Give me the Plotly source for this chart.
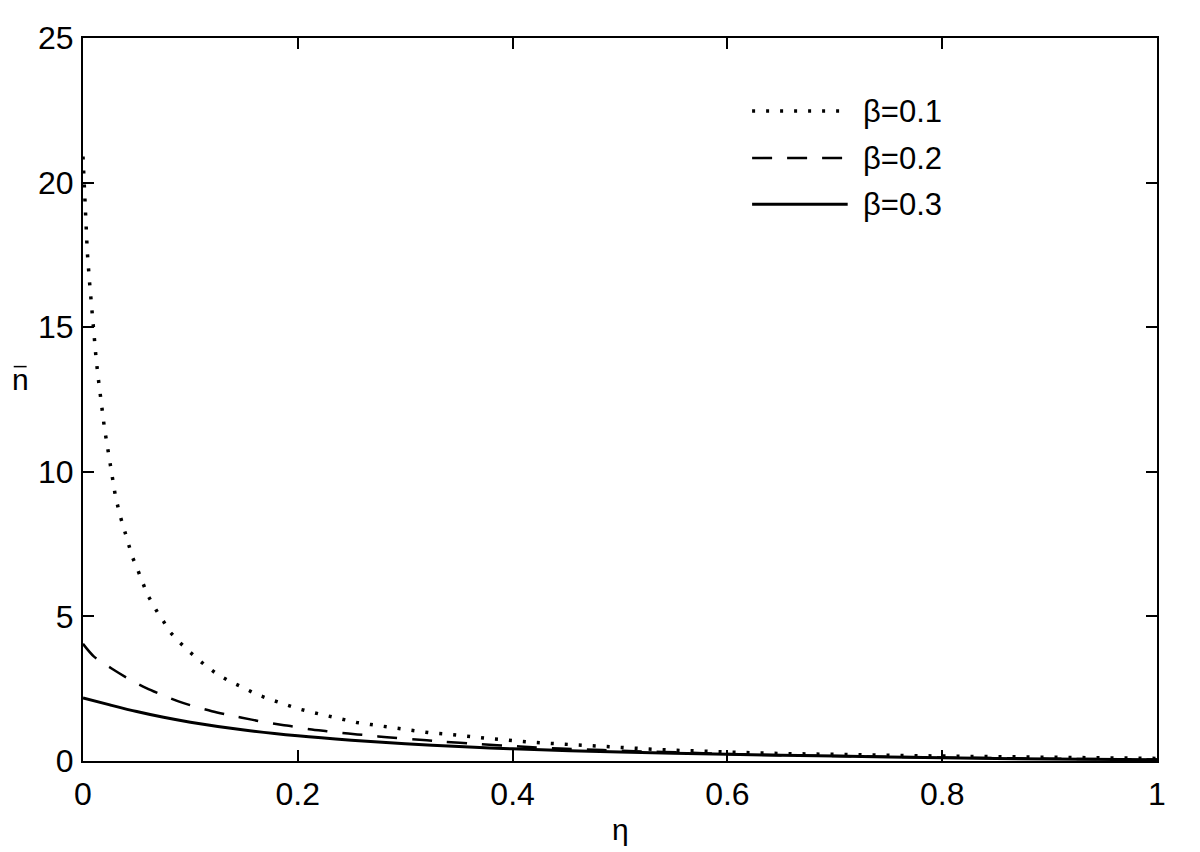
import plotly.graph_objects as go

# ---- data ----
eta_b01 = [0, 0.001, 0.002, 0.003, 0.004, 0.006, 0.008, 0.010, 0.012, 0.014, 0.016,
           0.018, 0.020, 0.023, 0.026, 0.030, 0.034, 0.038, 0.042, 0.046, 0.050,
           0.060, 0.070, 0.075, 0.080, 0.090, 0.100, 0.114, 0.125, 0.137, 0.150,
           0.162, 0.175, 0.188, 0.200, 0.215, 0.228, 0.241, 0.255, 0.268, 0.282,
           0.295, 0.310, 0.322, 0.336, 0.349, 0.363, 0.377, 0.390, 0.402, 0.416,
           0.430, 0.443, 0.457, 0.470, 0.484, 0.498, 0.512, 0.525, 0.539, 0.553,
           0.580, 0.608, 0.648, 0.690, 0.750, 0.800, 0.850, 0.900, 0.950, 1.000]
n_b01 = [20.9, 20.0, 19.0, 18.2, 17.6, 16.6, 15.6, 14.8, 14.0, 13.3, 12.6,
         12.1, 11.5, 10.8, 10.1, 9.2, 8.55, 8.05, 7.55, 7.05, 6.7,
         5.75, 5.1, 4.83, 4.5, 4.1, 3.75, 3.3, 3.0, 2.75, 2.52,
         2.3, 2.12, 1.96, 1.81, 1.67, 1.55, 1.43, 1.33, 1.26, 1.18,
         1.12, 1.05, 0.98, 0.94, 0.9, 0.84, 0.78, 0.73, 0.69, 0.65,
         0.62, 0.59, 0.56, 0.53, 0.5, 0.47, 0.44, 0.41, 0.39, 0.37,
         0.33, 0.3, 0.26, 0.23, 0.2, 0.17, 0.15, 0.13, 0.11, 0.09]

eta_b02 = [0, 0.010, 0.027, 0.044, 0.059, 0.076, 0.093, 0.120, 0.137, 0.157,
           0.1725, 0.193, 0.211, 0.227, 0.247, 0.264, 0.283, 0.320, 0.335, 0.363,
           0.407, 0.444, 0.484, 0.520, 0.562, 0.590, 0.650, 0.700, 0.800, 0.900, 1.000]
n_b02 = [4.05, 3.62, 3.19, 2.81, 2.52, 2.25, 2.01, 1.72, 1.58, 1.43,
         1.32, 1.21, 1.1, 1.03, 0.95, 0.89, 0.82, 0.72, 0.67, 0.6,
         0.5, 0.43, 0.38, 0.33, 0.29, 0.25, 0.2, 0.17, 0.12, 0.08, 0.05]

eta_b03 = [0, 0.025, 0.050, 0.075, 0.100, 0.150, 0.200, 0.250, 0.300, 0.350,
           0.400, 0.500, 0.600, 0.700, 0.800, 0.900, 1.000]
n_b03 = [2.18, 1.94, 1.71, 1.51, 1.34, 1.07, 0.87, 0.72, 0.6, 0.5,
         0.42, 0.31, 0.23, 0.17, 0.11, 0.07, 0.04]

labels = ["β=0.1", "β=0.2", "β=0.3"]
x_ticks = [0, 0.2, 0.4, 0.6, 0.8, 1]
y_ticks = [0, 5, 10, 15, 20, 25]

FONT = "Liberation Sans, Arial, Helvetica, sans-serif"
styles = [dict(dash="3px,11px", width=3.5, shape="linear"),
          dict(dash="20px,15px", width=2.5, shape="spline"),
          dict(dash="solid", width=3, shape="spline")]

fig = go.Figure()
for xs, ys, st, lab in zip([eta_b01, eta_b02, eta_b03], [n_b01, n_b02, n_b03], styles, labels):
    fig.add_trace(go.Scatter(x=xs, y=ys, mode="lines", name=lab, showlegend=False,
                             line=dict(color="black", width=st["width"], dash=st["dash"],
                                       shape=st["shape"], smoothing=0.8 if st["shape"] == "spline" else None)))

# manual legend (MATLAB-style long line samples)
leg_y = [0.899, 0.834, 0.770]
for yy, st, lab in zip(leg_y, styles, labels):
    fig.add_shape(type="line", xref="paper", yref="paper", x0=0.623, x1=0.712, y0=yy, y1=yy,
                  line=dict(color="black", width=st["width"], dash=st["dash"]))
    fig.add_annotation(xref="paper", yref="paper", x=0.724, y=yy, text=lab, showarrow=False,
                       xanchor="left", yanchor="middle", font=dict(family=FONT, size=31, color="black"))

# axis labels
fig.add_annotation(xref="paper", yref="paper", x=0.5, y=0, yshift=-68, text="η", showarrow=False,
                   xanchor="center", yanchor="middle", font=dict(family=FONT, size=30, color="black"))
fig.add_annotation(xref="paper", yref="paper", x=0, xshift=-63, y=0.527, text="n", showarrow=False,
                   xanchor="center", yanchor="middle", font=dict(family=FONT, size=30, color="black"))
# overline bar above the n
fig.add_shape(type="line", xref="paper", yref="paper", x0=-0.0645, x1=-0.0525, y0=0.5455, y1=0.5455,
              line=dict(color="black", width=1.5))

axis_common = dict(showline=True, linecolor="black", linewidth=2, mirror="ticks",
                   ticks="inside", ticklen=11, tickwidth=1.5, tickcolor="black",
                   showgrid=False, zeroline=False,
                   tickfont=dict(family=FONT, size=32, color="black"))
fig.update_xaxes(range=[0, 1], tickvals=x_ticks, ticktext=[str(v) for v in x_ticks],
                 ticklabelstandoff=4, **axis_common)
fig.update_yaxes(range=[0, 25], tickvals=y_ticks, ticklabelstandoff=1, **axis_common)
fig.update_layout(width=1200, height=852, plot_bgcolor="white", paper_bgcolor="white",
                  margin=dict(l=75, r=51, t=27, b=99), showlegend=False,
                  font=dict(family=FONT, color="black"))
fig.write_html("out.html")
